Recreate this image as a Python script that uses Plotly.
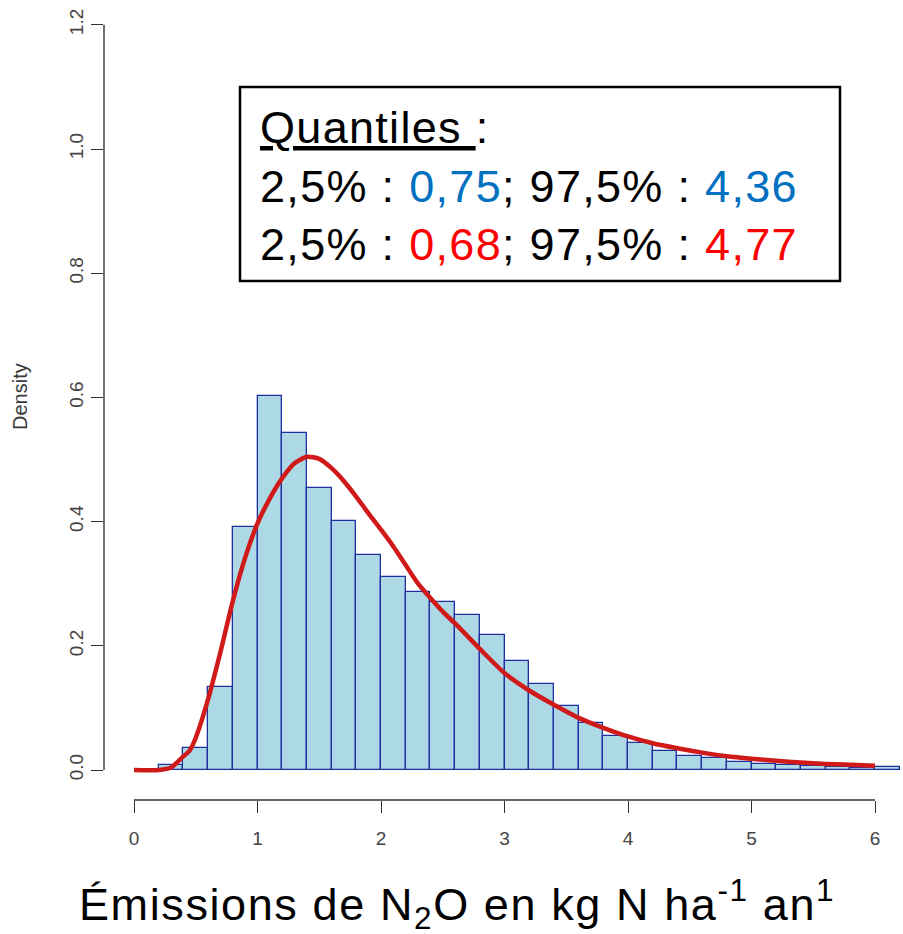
import plotly.graph_objects as go

# Histogram of simulated N2O emissions (density scale, bins of 0.2)
bin_starts = [0.2, 0.4, 0.6, 0.8, 1.0, 1.2, 1.4, 1.6, 1.8, 2.0,
              2.2, 2.4, 2.6, 2.8, 3.0, 3.2, 3.4, 3.6, 3.8, 4.0,
              4.2, 4.4, 4.6, 4.8, 5.0, 5.2, 5.4, 5.6, 5.8, 6.0]
bin_density = [0.008, 0.036, 0.133, 0.392, 0.603, 0.543, 0.454, 0.401, 0.346, 0.310,
               0.287, 0.270, 0.249, 0.217, 0.175, 0.138, 0.103, 0.075, 0.054, 0.044,
               0.031, 0.023, 0.019, 0.013, 0.010, 0.008, 0.006, 0.0043, 0.0038, 0.0043]
bin_width = 0.2

# Fitted density curve
curve_x = [0.0, 0.2, 0.3, 0.4, 0.45, 0.5, 0.6, 0.7, 0.8, 0.9, 1.0, 1.1, 1.2, 1.3,
           1.4, 1.5, 1.6, 1.7, 1.8, 1.9, 2.0, 2.1, 2.2, 2.3, 2.4, 2.5, 2.6, 2.8,
           3.0, 3.2, 3.4, 3.6, 3.8, 4.0, 4.2, 4.4, 4.6, 4.8, 5.0, 5.2, 5.4, 5.6,
           5.8, 6.0]
curve_y = [0.0, 0.0, 0.004, 0.022, 0.031, 0.052, 0.114, 0.190, 0.272, 0.342, 0.397,
           0.4375, 0.470, 0.494, 0.5045, 0.501, 0.486, 0.465, 0.440, 0.413, 0.387,
           0.360, 0.330, 0.300, 0.277, 0.255, 0.236, 0.195, 0.156, 0.128, 0.105,
           0.084, 0.068, 0.054, 0.043, 0.035, 0.028, 0.022, 0.018, 0.015, 0.012,
           0.0098, 0.0085, 0.007]

x_ticks = [0, 1, 2, 3, 4, 5, 6]
y_ticks = [0.0, 0.2, 0.4, 0.6, 0.8, 1.0, 1.2]
y_ticktext = ["0.0", "0.2", "0.4", "0.6", "0.8", "1.0", "1.2"]

# Quantile summary shown in the box
q_blue = ["0,75", "4,36"]
q_red = ["0,68", "4,77"]
blue = "#0070C0"
red = "#FF0000"

FONT = "Liberation Sans, Arial, sans-serif"
AXIS_COL = "#333333"
TICK_COL = "#444444"

# figure geometry (pixels)
W, H = 903, 934
ML, MR, MT, MB = 104, 0, 0, 134
PW, PH = W - ML - MR, H - MT - MB


def px(xp):
    return (xp - ML) / PW


def py(yp):
    return (MT + PH - yp) / PH


fig = go.Figure()

fig.add_trace(go.Bar(
    x=[b + bin_width / 2 for b in bin_starts],
    y=bin_density,
    width=bin_width,
    marker=dict(color="#ADD8E6", line=dict(color="#1F2FA0", width=1.3)),
    showlegend=False,
    hoverinfo="skip",
))

fig.add_trace(go.Scatter(
    x=curve_x, y=curve_y, mode="lines",
    line=dict(color="#D01A1A", width=4.5, shape="spline", smoothing=0.6),
    showlegend=False, hoverinfo="skip",
))

# R-style axis lines spanning only the tick range
fig.add_shape(type="line", xref="x", yref="paper", x0=x_ticks[0], x1=x_ticks[-1],
              y0=0, y1=0, line=dict(color=AXIS_COL, width=1.4), layer="above")
fig.add_shape(type="line", xref="paper", yref="y", x0=0, x1=0,
              y0=y_ticks[0], y1=y_ticks[-1], line=dict(color=AXIS_COL, width=1.4),
              layer="above")

# Quantile box
fig.add_shape(type="rect", xref="paper", yref="paper",
              x0=px(240), x1=px(840), y0=py(87), y1=py(281),
              line=dict(color="black", width=2.5), fillcolor="white", layer="above")

box_text = (
    "<span style='letter-spacing:1.3px'>"
    "<u>Quantiles </u>:<br>"
    f"2,5% : <span style='color:{blue}'>{q_blue[0]}</span>; "
    f"97,5% : <span style='color:{blue}'>{q_blue[1]}</span><br>"
    f"2,5% : <span style='color:{red}'>{q_red[0]}</span>; "
    f"97,5% : <span style='color:{red}'>{q_red[1]}</span>"
    "</span>"
)
fig.add_annotation(
    x=px(258), y=py(100), xref="paper", yref="paper",
    xanchor="left", yanchor="top", align="left", showarrow=False,
    text=box_text, font=dict(family=FONT, size=45, color="black"),
)

# axis titles
fig.add_annotation(
    x=px(457), y=py(904), xref="paper", yref="paper",
    xanchor="center", yanchor="middle", showarrow=False,
    text=("<span style='letter-spacing:1.6px'>Émissions de N<sub>2</sub>O en kg N "
          "ha<sup>-1</sup> an<sup>1</sup></span>"),
    font=dict(family=FONT, size=45, color="black"),
)
fig.add_annotation(
    x=px(20), y=py(397), xref="paper", yref="paper",
    xanchor="center", yanchor="middle", showarrow=False, textangle=-90,
    text="Density", font=dict(family=FONT, size=20, color="#3a3a3a"),
)

fig.update_layout(
    width=W, height=H,
    margin=dict(l=ML, r=MR, t=MT, b=MB, pad=0),
    paper_bgcolor="white", plot_bgcolor="white",
    bargap=0,
    xaxis=dict(
        range=[(ML - 134) / 123.5, (W - 134) / 123.5],
        tickvals=x_ticks, ticks="outside", ticklen=12, tickwidth=1.4,
        tickcolor=AXIS_COL, showgrid=False, zeroline=False, showline=False,
        ticklabelstandoff=9,
        tickfont=dict(family=FONT, size=19, color=TICK_COL),
    ),
    yaxis=dict(
        range=[-30 / 621, 770 / 621],
        tickvals=y_ticks, ticktext=y_ticktext, ticks="outside", ticklen=12,
        tickwidth=1.4, tickcolor=AXIS_COL, tickangle=-90,
        showgrid=False, zeroline=False, showline=False,
        tickfont=dict(family=FONT, size=19, color=TICK_COL),
    ),
)

fig.write_html("out.html")
